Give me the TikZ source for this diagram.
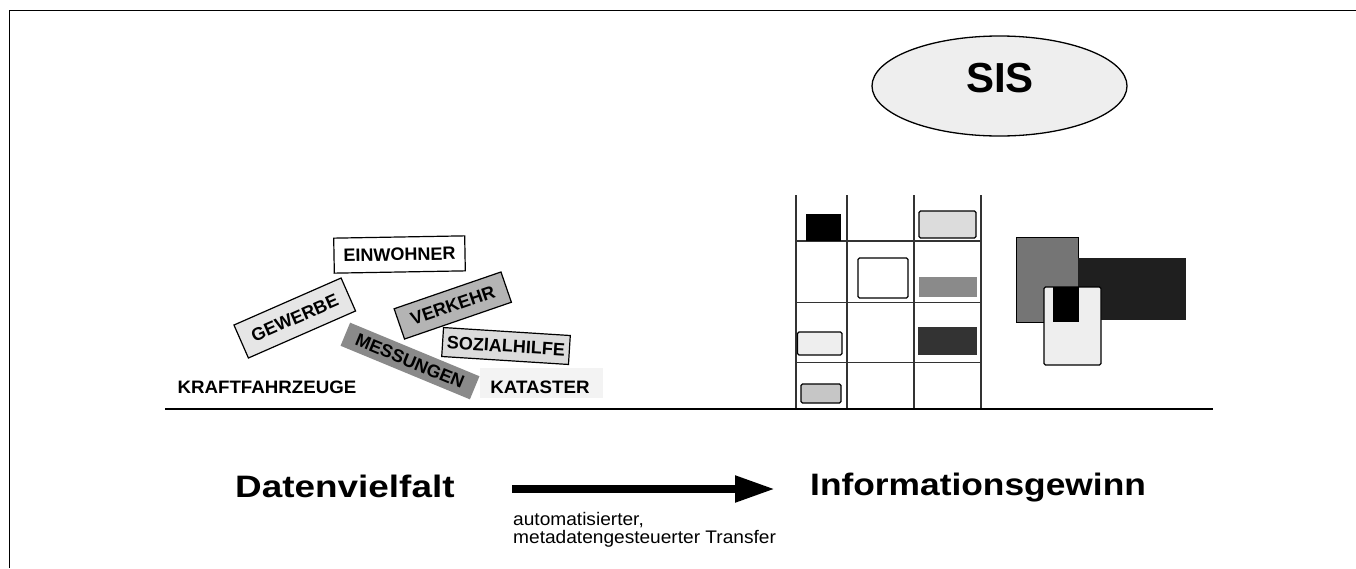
\documentclass[tikz,border=0pt]{standalone}
\usepackage{fontspec}
\setmainfont{Liberation Sans}
\usetikzlibrary{shapes.geometric,arrows.meta}
\definecolor{paleg}{HTML}{EEEEEE}
\definecolor{faintg}{HTML}{F3F3F3}
\definecolor{lightg}{HTML}{DCDCDC}
\definecolor{midg}{HTML}{B4B4B4}
\definecolor{darkg}{HTML}{8A8A8A}
\definecolor{deepg}{HTML}{333333}
\newcommand{\lblfont}{\bfseries\fontsize{18}{20}\selectfont}
\newcommand{\bigfont}{\bfseries\fontsize{31}{34}\selectfont}
\tikzset{
  lbl/.style={draw=black, line width=1.2pt, inner sep=0pt, font=\lblfont},
  tile/.style={draw=black, line width=1.2pt, rounded corners=1.5pt},
  gridline/.style={line width=1.2pt, black!80},
}
\begin{document}
\begin{tikzpicture}[x=1pt,y=-1pt]
\useasboundingbox (0,0) rectangle (1356,568);

% outer frame (top and left edges)
\draw[line width=1.5pt] (9.5,568) -- (9.5,10.5) -- (1356,10.5);

% ground line
\draw[line width=2pt] (165,408.5) -- (1213,408.5);

% ---- data labels piled on the left ----
\node[fill=faintg, minimum width=123pt, minimum height=30pt, inner sep=0pt] (katbg) at (541,383) {};
\node[anchor=base, inner sep=0pt, font=\lblfont] (kat) at (540,393) {\scalebox{1.04}[1]{KATASTER}};
\node[anchor=base, inner sep=0pt, font=\lblfont] (kfz) at (267,393) {\scalebox{1.04}[1]{KRAFTFAHRZEUGE}};
\node[lbl, fill=white, rotate=1, minimum width=131pt, minimum height=35pt] (einw) at (399.5,254.5) {EINWOHNER};
\node[lbl, fill=lightg!70, rotate=23.7, minimum width=117pt, minimum height=36pt] (gew) at (294.75,318) {GEWERBE};
\node[lbl, fill=midg, rotate=19, minimum width=113pt, minimum height=32pt] (verk) at (452.75,305.5) {VERKEHR};
\node[lbl, fill=lightg, rotate=-3.6, minimum width=127pt, minimum height=29pt] (soz) at (506,346) {SOZIALHILFE};
\node[inner sep=0pt, fill=darkg, font=\lblfont, rotate=-22.5, minimum width=140pt, minimum height=25pt] (mess) at (410,361) {MESSUNGEN};

% ---- structured storage grid ----
\foreach \gx in {796,847,914,981}
  \draw[gridline] (\gx,195) -- (\gx,408);
\foreach \gy in {241,302.5,362.5}
  \draw[gridline] (796,\gy) -- (981,\gy);
\fill[black] (806,214) rectangle (841,241);
\draw[tile, fill=lightg] (919,211) rectangle (976,238);
\draw[tile, fill=white] (858,258) rectangle (908,298);
\fill[darkg] (919,277) rectangle (977,297);
\draw[tile, fill=paleg] (797.5,332) rectangle (842,355);
\fill[deepg] (918,327) rectangle (977,355);
\draw[tile, fill=lightg!90!black] (801,384) rectangle (841,403);

% ---- overlapping blocks on the right ----
\draw[fill=darkg!85!black, line width=1pt] (1016,237) rectangle (1078,322);
\fill[black!88] (1078,258) rectangle (1186,320);
\draw[tile, fill=paleg] (1044,287) rectangle (1101,365);
\fill[black] (1053,287) rectangle (1079,322);

% ---- SIS ellipse ----
\node[draw=black, line width=1.3pt, ellipse, fill=paleg, minimum width=255pt, minimum height=100pt, inner sep=0pt] (sisell) at (999.5,86) {};
\node[anchor=base, inner sep=0pt, font=\bfseries\fontsize{42}{46}\selectfont] (sis) at (1000,92) {SIS};

% ---- bottom row: transfer ----
\node[anchor=base west, inner sep=0pt, font=\bigfont] (dv) at (235,497) {\scalebox{1.19}[1]{Datenvielfalt}};
\node[anchor=base west, inner sep=0pt, font=\bigfont] (ig) at (810,495) {\scalebox{1.14}[1]{Informationsgewinn}};
\coordinate (arrS) at (512,489);
\coordinate (arrE) at (775,489);
\draw[line width=8pt, -{Triangle[length=40pt,width=25pt]}] (arrS) -- (arrE);
\node[anchor=base west, inner sep=0pt, font=\fontsize{18.2}{20}\selectfont] (cap1) at (513,525) {\scalebox{1.05}[1]{automatisierter,}};
\node[anchor=base west, inner sep=0pt, font=\fontsize{18.2}{20}\selectfont] (cap2) at (513,543) {\scalebox{1.05}[1]{metadatengesteuerter Transfer}};
\end{tikzpicture}
\end{document}
